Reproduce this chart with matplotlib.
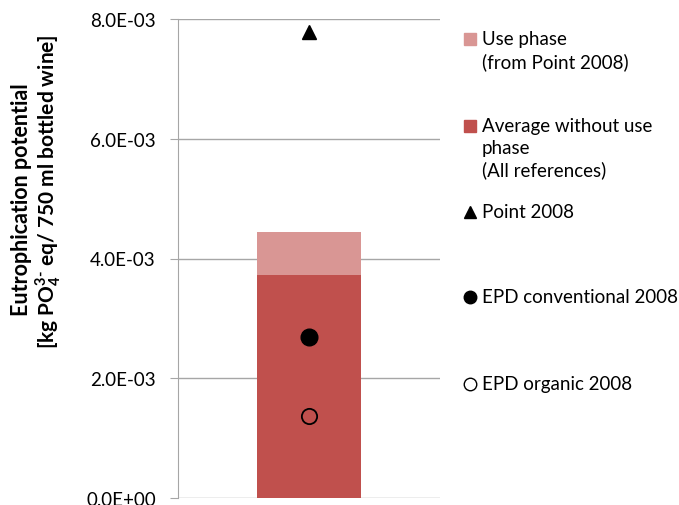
import numpy as np
import matplotlib.pyplot as plt
from matplotlib.ticker import FuncFormatter

plt.rcParams['font.family'] = ['Lato', 'DejaVu Sans']
plt.rcParams['mathtext.fontset'] = 'custom'
plt.rcParams['mathtext.rm'] = 'Lato:bold'
plt.rcParams['mathtext.bf'] = 'Lato:bold'

# data (kg PO4 eq / 750 ml bottle)
categories = ["wine"]
avg_without_use = [3.72e-3]
use_phase = [0.72e-3]
point_2008 = [7.78e-3]
epd_conventional = [2.69e-3]
epd_organic = [1.37e-3]

legend_labels = [
    "Use phase\n(from Point 2008)",
    "Average without use\nphase\n(All references)",
    "Point 2008",
    "EPD conventional 2008",
    "EPD organic 2008",
]

W, H = 679, 506
fig = plt.figure(figsize=(W / 100, H / 100), dpi=100)
ax = fig.add_axes([178 / W, 7 / H, 262 / W, 479 / H])

x = np.arange(len(categories))
ax.bar(x, avg_without_use, width=0.4, color="#C0504D", zorder=2)
ax.bar(x, use_phase, width=0.4, bottom=avg_without_use, color="#D99694", zorder=2)
ax.plot(x, point_2008, marker="^", ms=10, color="black", ls="none", zorder=3)
ax.plot(x, epd_conventional, marker="o", ms=12, color="black", ls="none", zorder=3)
ax.plot(x, epd_organic, marker="o", ms=11, mfc="none", mec="black", mew=1.3,
        ls="none", zorder=3)

ax.set_xlim(-0.5, 0.5)
ax.set_ylim(0, 8e-3)
ax.set_yticks(np.arange(0, 8.01e-3, 2e-3))
ax.yaxis.set_major_formatter(FuncFormatter(lambda v, p: f"{v:.1E}"))
ax.set_xticks([])
ax.grid(axis="y", color="#a6a6a6", lw=1, zorder=0)
for s in ["top", "right", "bottom"]:
    ax.spines[s].set_visible(False)
ax.spines["left"].set_color("#a6a6a6")
ax.tick_params(axis="y", length=6, color="#a6a6a6", labelsize=13.5, pad=10)

fig.text(22 / W, 1 - 200 / H, "Eutrophication potential", rotation=90,
         fontsize=15.5, fontweight="bold", ha="center", va="center")
fig.text(48 / W, 1 - 192 / H,
         r"[kg PO$_\mathbf{4}^{\mathbf{3}\text{-}}$ eq/ 750 ml bottled wine]",
         rotation=90, fontsize=15, fontweight="bold", ha="center", va="center")

# legend drawn in its own axes, pixel coordinates
lax = fig.add_axes([440 / W, 0, 239 / W, 1])
lax.set_xlim(440, 679)
lax.set_ylim(506, 0)
lax.axis("off")
ys = [40, 127, 213, 298, 385]
lax.plot(470, ys[0], marker="s", ms=9, color="#D99694", ls="none")
lax.plot(470, ys[1], marker="s", ms=9, color="#C0504D", ls="none")
lax.plot(470, ys[2], marker="^", ms=8, color="black", ls="none")
lax.plot(470, ys[3], marker="o", ms=9, color="black", ls="none")
lax.plot(470, ys[4], marker="o", ms=9, mfc="white", mec="black", mew=1, ls="none")
for y, lab in zip(ys, legend_labels):
    lax.text(482, y - 9, lab, fontsize=13.5, va="top", ha="left", linespacing=1.33)

fig.savefig("out.png", dpi=100)
